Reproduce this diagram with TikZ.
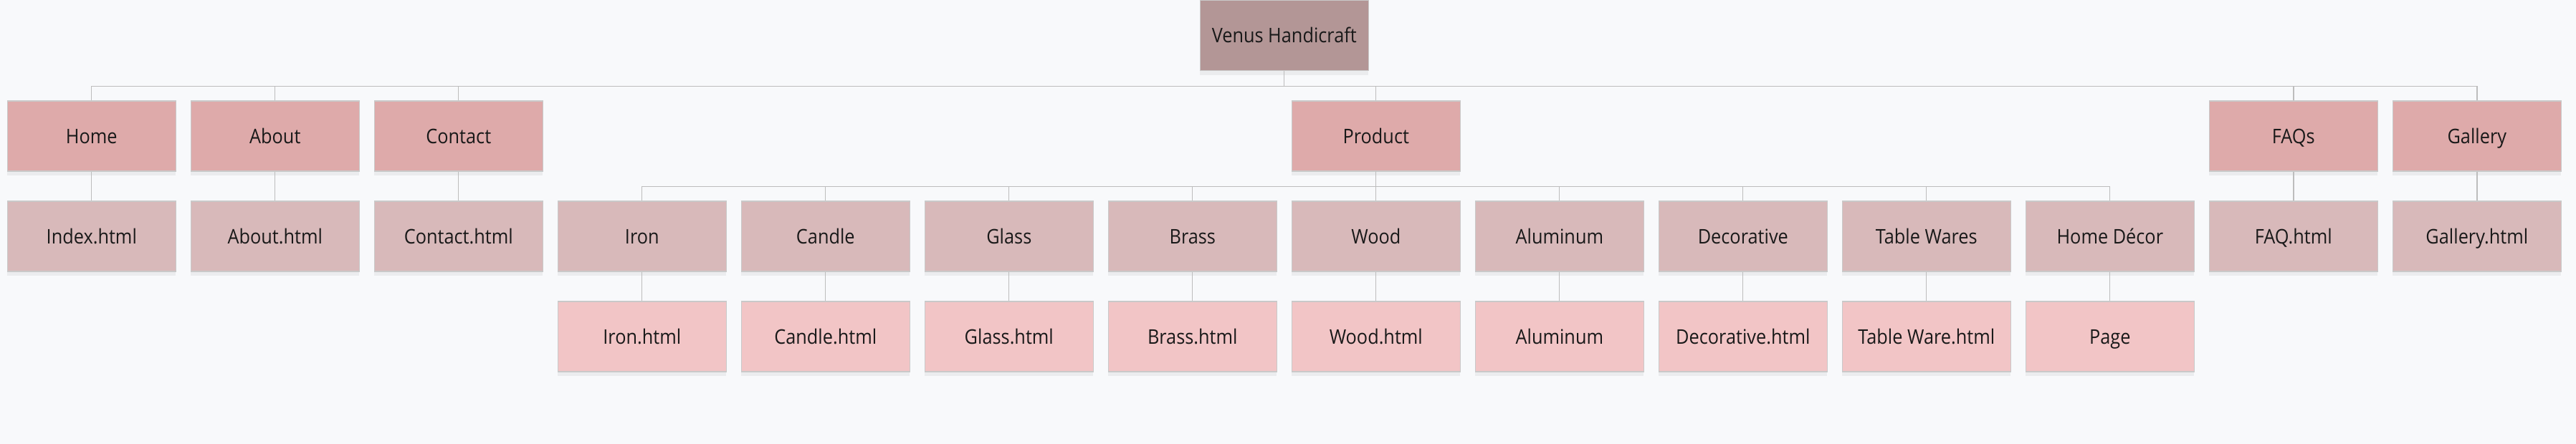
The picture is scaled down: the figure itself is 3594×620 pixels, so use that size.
\documentclass[tikz,border=0pt]{standalone}
\usepackage{fontspec}
\setmainfont{Open Sans}[FakeStretch=0.9]
\usetikzlibrary{shadows}
\definecolor{bgcol}{HTML}{F8F9FB}
\definecolor{boxline}{HTML}{C9C9C9}
\definecolor{linkcol}{HTML}{BDBDBD}
\definecolor{rootcol}{HTML}{B39696}
\definecolor{mainpage}{HTML}{DEAAAA}
\definecolor{subpage}{HTML}{D8B9BA}
\definecolor{filepage}{HTML}{F2C5C6}
\tikzset{
  page/.style = {draw=boxline, line width=0.8pt, minimum width=47mm, minimum height=19.6mm,
    inner sep=0pt, text=black!90, font=\fontsize{16}{19}\selectfont,
    text height=15.2pt, text depth=3.8pt,
    drop shadow={fill=black, opacity=0.05, shadow xshift=0pt, shadow yshift=-1.2mm}},
  rootpage/.style = {page, fill=rootcol},
  toppage/.style = {page, fill=mainpage},
  midpage/.style = {page, fill=subpage},
  lowpage/.style = {page, fill=filepage},
  link/.style = {draw=linkcol, line width=0.75pt}
}
\begin{document}
\begin{tikzpicture}[x=0.2mm, y=-0.2mm]
\fill[bgcol] (0,0) rectangle (3594,620);
\useasboundingbox (0,0) rectangle (3594,620);

\node[rootpage] (venus) at (1791.8,49.5) {Venus Handicraft};

\node[toppage] (home) at (127.8,190) {Home};
\node[toppage] (about) at (383.8,190) {About};
\node[toppage] (contact) at (639.8,190) {Contact};
\node[toppage] (product) at (1919.8,190) {Product};
\node[toppage] (faqs) at (3199.8,190) {FAQs};
\node[toppage] (gallery) at (3455.8,190) {Gallery};

\node[midpage] (index) at (127.8,330) {Index.html};
\node[midpage] (abouthtml) at (383.8,330) {About.html};
\node[midpage] (contacthtml) at (639.8,330) {Contact.html};
\node[midpage] (iron) at (895.8,330) {Iron};
\node[midpage] (candle) at (1151.8,330) {Candle};
\node[midpage] (glass) at (1407.8,330) {Glass};
\node[midpage] (brass) at (1663.8,330) {Brass};
\node[midpage] (wood) at (1919.8,330) {Wood};
\node[midpage] (aluminum) at (2175.8,330) {Aluminum};
\node[midpage] (decorative) at (2431.8,330) {Decorative};
\node[midpage] (tablewares) at (2687.8,330) {Table Wares};
\node[midpage] (homedecor) at (2943.8,330) {Home Décor};
\node[midpage] (faqhtml) at (3199.8,330) {FAQ.html};
\node[midpage] (galleryhtml) at (3455.8,330) {Gallery.html};

\node[lowpage] (ironhtml) at (895.8,470) {Iron.html};
\node[lowpage] (candlehtml) at (1151.8,470) {Candle.html};
\node[lowpage] (glasshtml) at (1407.8,470) {Glass.html};
\node[lowpage] (brasshtml) at (1663.8,470) {Brass.html};
\node[lowpage] (woodhtml) at (1919.8,470) {Wood.html};
\node[lowpage] (aluminumhtml) at (2175.8,470) {Aluminum};
\node[lowpage] (decorativehtml) at (2431.8,470) {Decorative.html};
\node[lowpage] (tablewarehtml) at (2687.8,470) {Table Ware.html};
\node[lowpage] (homedecorpage) at (2943.8,470) {Page};

% site root to main pages
\draw[link] (venus.south) -- ++(0,21) -| (home.north);
\draw[link] (venus.south) -- ++(0,21) -| (about.north);
\draw[link] (venus.south) -- ++(0,21) -| (contact.north);
\draw[link] (venus.south) -- ++(0,21) -| (product.north);
\draw[link] (venus.south) -- ++(0,21) -| (faqs.north);
\draw[link] (venus.south) -- ++(0,21) -| (gallery.north);

% product categories
\draw[link] (product.south) -- ++(0,21) -| (iron.north);
\draw[link] (product.south) -- ++(0,21) -| (candle.north);
\draw[link] (product.south) -- ++(0,21) -| (glass.north);
\draw[link] (product.south) -- ++(0,21) -| (brass.north);
\draw[link] (product.south) -- ++(0,21) -| (wood.north);
\draw[link] (product.south) -- ++(0,21) -| (aluminum.north);
\draw[link] (product.south) -- ++(0,21) -| (decorative.north);
\draw[link] (product.south) -- ++(0,21) -| (tablewares.north);
\draw[link] (product.south) -- ++(0,21) -| (homedecor.north);

% pages to files
\draw[link] (home) -- (index);
\draw[link] (about) -- (abouthtml);
\draw[link] (contact) -- (contacthtml);
\draw[link] (faqs) -- (faqhtml);
\draw[link] (gallery) -- (galleryhtml);
\draw[link] (iron) -- (ironhtml);
\draw[link] (candle) -- (candlehtml);
\draw[link] (glass) -- (glasshtml);
\draw[link] (brass) -- (brasshtml);
\draw[link] (wood) -- (woodhtml);
\draw[link] (aluminum) -- (aluminumhtml);
\draw[link] (decorative) -- (decorativehtml);
\draw[link] (tablewares) -- (tablewarehtml);
\draw[link] (homedecor) -- (homedecorpage);
\end{tikzpicture}
\end{document}
